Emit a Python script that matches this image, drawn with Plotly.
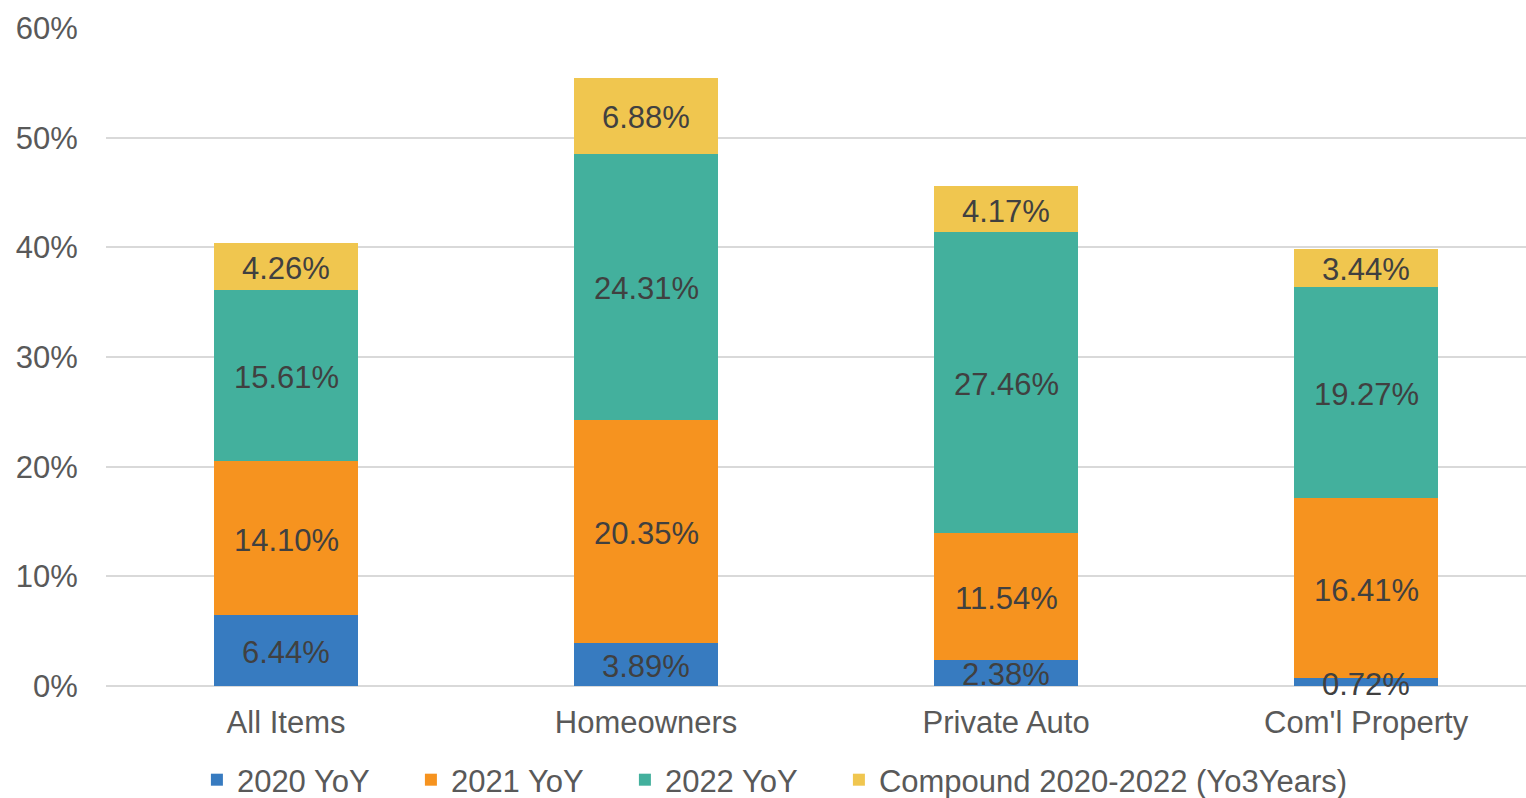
import numpy as np
import plotly.graph_objects as go

categories = ["All Items", "Homeowners", "Private Auto", "Com'l Property"]
series_names = ["2020 YoY", "2021 YoY", "2022 YoY", "Compound 2020-2022 (Yo3Years)"]
v2020 = [6.44, 3.89, 2.38, 0.72]
v2021 = [14.10, 20.35, 11.54, 16.41]
v2022 = [15.61, 24.31, 27.46, 19.27]
vcomp = [4.26, 6.88, 4.17, 3.44]
colors = ["#377BC0", "#F6931F", "#43B09D", "#F0C64F"]
y_ticks = [0, 10, 20, 30, 40, 50, 60]
y_ticktext = ["0%", "10%", "20%", "30%", "40%", "50%", "60%"]

FONT = "Liberation Sans, Arial, sans-serif"
fig = go.Figure()
all_series = [v2020, v2021, v2022, vcomp]
for i, (name, vals, col) in enumerate(zip(series_names, all_series, colors)):
    kw = {}
    if i < 3:
        kw["legendwidth"] = 169
    fig.add_trace(go.Bar(
        x=categories, y=vals, name=name,
        marker=dict(color=col, line=dict(width=0)),
        hoverinfo="skip", **kw,
    ))

# value labels drawn on top of all bars (centered in each segment)
annotations = []
base = np.zeros(len(categories))
for vals in all_series:
    arr = np.array(vals)
    mids = base + arr / 2
    for cat, m, v in zip(categories, mids, vals):
        annotations.append(dict(
            x=cat, y=m, xref="x", yref="y", text=f"{v:.2f}%",
            showarrow=False, yshift=-2,
            font=dict(family=FONT, size=31, color="#404040"),
        ))
    base = base + arr

fig.update_layout(
    barmode="stack", bargap=0.6,
    width=1526, height=798,
    margin=dict(l=106, r=0, t=28, b=112),
    paper_bgcolor="white", plot_bgcolor="white",
    font=dict(family=FONT, size=31, color="#595959"),
    annotations=annotations,
    legend=dict(orientation="h", xref="container", yref="container",
                x=0.5078, xanchor="center", y=0.0225, yanchor="middle",
                traceorder="normal",
                font=dict(size=31, color="#595959")),
    xaxis=dict(range=[-0.5, 3.444], showgrid=False, ticks="outside",
               ticklen=9, tickcolor="rgba(0,0,0,0)", showline=False),
    yaxis=dict(range=[0, 60], tickmode="array", tickvals=y_ticks, ticktext=y_ticktext,
               showgrid=True, gridcolor="#D9D9D9", gridwidth=1.5,
               zeroline=True, zerolinecolor="#D9D9D9", zerolinewidth=1.5,
               ticks="outside", ticklen=21, tickcolor="rgba(0,0,0,0)"),
)
fig.write_html("out.html", config={"displayModeBar": False},
               post_script="document.body.style.margin='0';document.body.style.overflow='hidden';")
